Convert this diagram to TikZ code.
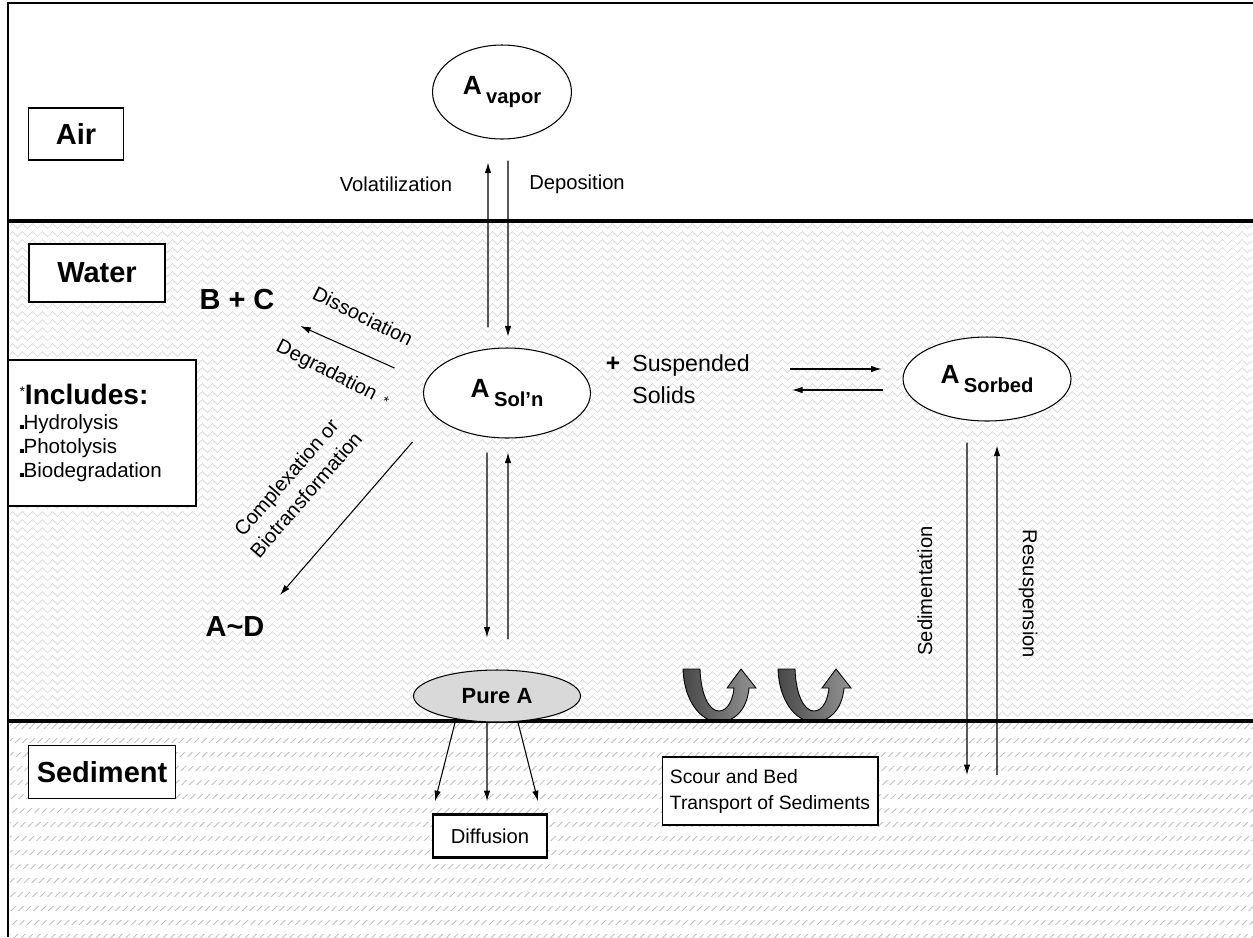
\documentclass[tikz,border=0pt]{standalone}
\usepackage{fontspec}
\setmainfont{Liberation Sans}
\usepackage{tikz}
\usetikzlibrary{arrows.meta,calc,positioning,shapes.geometric,decorations.pathmorphing,patterns.meta}

\newcommand{\lblfont}{\fontsize{11.5}{14.8}\selectfont}
\newcommand{\zonefont}{\fontsize{16.5}{18}\selectfont\bfseries}
\newcommand{\Asub}[1]{{\fontsize{15}{15}\selectfont\bfseries A}\kern2.5pt\raisebox{-5pt}{\fontsize{11.5}{12}\selectfont\bfseries #1}}
\newcommand{\sqb}{\rule{2.3pt}{2.3pt}}

\begin{document}
\begin{tikzpicture}[x=0.02cm,y=-0.02cm,>=Latex]
    \tikzset{
      zone/.style={draw, line width=0.6pt, fill=white, font=\zonefont, minimum height=1.04cm},
      blob/.style={ellipse, draw, line width=0.6pt, fill=white},
      arrow/.style={-{Latex[length=2.1mm,width=1.3mm]}, line width=0.6pt},
      txt/.style={font=\lblfont, inner sep=0pt},
      wave/.style={gray!30, line width=0.4pt, decorate, decoration={zigzag, segment length=0.2cm, amplitude=0.05cm}},
      uturn/.pic={
        \draw[line width=0.5pt, left color=black!72, right color=black!42]
          (0,0) -- (17,0) .. controls (18,28) and (27,42) .. (36,42)
          .. controls (45,42) and (50,30) .. (51,19) -- (44,19) -- (58,0) -- (73,19) -- (66,19)
          .. controls (64,42) and (50,53) .. (36,53) .. controls (18,53) and (1,32) .. (0,0) -- cycle;
      }
    }
    \useasboundingbox (0,0) rectangle (1253,937);
    \fill[white] (0,0) rectangle (1253,937);

    % water and sediment textures
    \foreach \y in {226,234,...,716}
      \draw[wave] (10,\y) -- (1253,\y);
    \fill[pattern={Lines[angle=45,distance=3pt,line width=0.5pt]}, pattern color=gray!50] (10,723) rectangle (1253,937);
    \foreach \y in {729,743,...,937}
      \fill[white] (10,\y) rectangle (1253,{\y+9});

    \pic at (683,669) {uturn};
    \pic at (778,669) {uturn};

    \draw[line width=1.7pt] (8,937) -- (8,3) -- (1253,3);
    \draw[line width=2.3pt] (8,221) -- (1253,221);
    \draw[line width=2.3pt] (8,721) -- (1253,721);

    \node[zone, minimum width=1.9cm] (air) at (76,134) {Air};
    \node[zone, minimum width=2.72cm, minimum height=1.16cm] (water) at (97,273) {Water};
    \node[zone, minimum width=2.94cm, minimum height=1.06cm] (sed) at (102,772) {Sediment};

    \node[blob, minimum width=2.78cm, minimum height=1.88cm] (vap) at (502,92) {\Asub{vapor}};
    \node[blob, minimum width=3.34cm, minimum height=1.8cm] (soln) at (507,393) {\Asub{Sol{\char"27}n}};
    \node[blob, minimum width=3.36cm, minimum height=1.68cm] (sorb) at (987,379) {\Asub{Sorbed}};
    \node[blob, fill=gray!30, minimum width=3.34cm, minimum height=1.04cm,
      font=\fontsize{12.5}{13}\selectfont\bfseries] (pure) at (497,696) {Pure A};

    \node[txt] (volat) at (396,184) {Volatilization};
    \node[txt] (depos) at (577,184) {Deposition};
    \node[font=\zonefont, inner sep=0pt] (bc) at (237,300) {B + C};
    \node[font=\zonefont, inner sep=0pt] (ad) at (235,627) {A\textasciitilde D};
    \node[txt, rotate=-26.6] (dissoc) at (363,316) {Dissociation};
    \node[txt, rotate=-27, anchor=west] (degr) at (277,346) {Degradation\kern5pt{\fontsize{8}{8}\selectfont *}};
    \node[txt, rotate=49, align=center] (cplx) at (296,486) {Complexation or\\Biotransformation};
    \node[txt, rotate=90] (sedim) at (925,591) {Sedimentation};
    \node[txt, rotate=-90] (resus) at (1028,594) {Resuspension};
    \node[font=\fontsize{14}{14}\selectfont\bfseries, inner sep=0pt] (plus) at (613,364) {+};
    \node[txt, font=\fontsize{13.2}{18}\selectfont, align=left, anchor=west] (susp) at (632,379) {Suspended\\Solids};

    \node[draw, fill=white, line width=0.6pt, minimum width=3.76cm, minimum height=2.92cm, text width=3.3cm,
      align=left, font=\fontsize{11.7}{13.7}\selectfont] (incl) at (102,433)
      {\raisebox{5pt}{\fontsize{8}{8}\selectfont *}{\fontsize{16}{16}\selectfont\bfseries Includes:}\\[0pt]
       \sqb Hydrolysis\\ \sqb Photolysis\\ \sqb Biodegradation};
    \node[draw, line width=1.5pt, fill=white, font=\lblfont, minimum width=2.28cm, minimum height=0.86cm] (diff) at (490,836) {Diffusion};
    \node[draw, line width=0.6pt, fill=white, font=\fontsize{11}{14.8}\selectfont, align=left,
      minimum width=4.32cm, minimum height=1.36cm] (scour) at (770,791) {Scour and Bed\\Transport of Sediments};
    \coordinate (bed) at (982,775);

    \draw[arrow] ([xshift=-0.38cm,yshift=0.4cm]soln.north) -- ([xshift=-0.28cm,yshift=-0.46cm]vap.south);
    \draw[arrow] ([xshift=0.12cm,yshift=-0.42cm]vap.south) -- ([xshift=0.02cm,yshift=0.22cm]soln.north);
    \draw[arrow] ([xshift=-0.57cm,yshift=0.5cm]soln.west) -- ([xshift=0.51cm,yshift=-0.52cm]bc.east);
    \draw[arrow] ([xshift=-0.21cm,yshift=-0.98cm]soln.west) -- ([xshift=0.9cm,yshift=0.64cm]ad.center);
    \draw[arrow] ([xshift=-0.4cm,yshift=-0.28cm]soln.south) -- ([xshift=-0.2cm,yshift=0.64cm]pure.north);
    \draw[arrow] ([xshift=0.22cm,yshift=0.6cm]pure.north) -- ([xshift=0.02cm,yshift=-0.28cm]soln.south);
    \draw[arrow] ([xshift=0.8cm,yshift=0.2cm]susp.east) -- ([xshift=-0.42cm,yshift=0.2cm]sorb.west);
    \draw[arrow] ([xshift=-0.4cm,yshift=-0.22cm]sorb.west) -- ([xshift=0.84cm,yshift=-0.22cm]susp.east);
    \draw[arrow] ([xshift=-0.4cm,yshift=-0.42cm]sorb.south) -- ([xshift=-0.3cm]bed);
    \draw[arrow] ([xshift=0.3cm]bed) -- ([xshift=0.2cm,yshift=-0.48cm]sorb.south);
    \foreach \a/\b in {-0.84/-1.1, -0.2/-0.06, 0.42/0.96}
      \draw[arrow] ([xshift=\a cm]pure.south) -- ([xshift=\b cm,yshift=0.24cm]diff.north);
\end{tikzpicture}
\end{document}
